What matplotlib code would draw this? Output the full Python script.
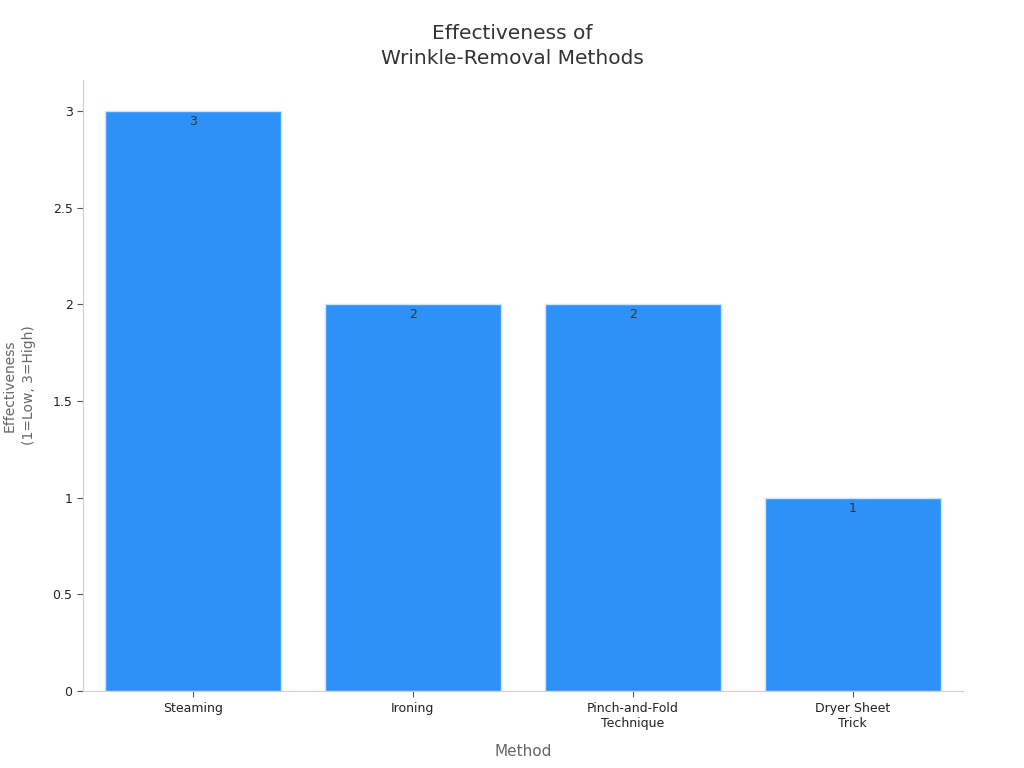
import matplotlib
matplotlib.use("Agg")
import matplotlib.pyplot as plt

methods = ["Steaming", "Ironing", "Pinch-and-Fold\nTechnique", "Dryer Sheet\nTrick"]
effectiveness = [3, 2, 2, 1]
yticks = [0, 0.5, 1, 1.5, 2, 2.5, 3]
ytick_labels = ["0", "0.5", "1", "1.5", "2", "2.5", "3"]

plt.rcParams["font.family"] = ["DejaVu Sans"]
fig = plt.figure(figsize=(10.24, 7.68), dpi=100)
ax = fig.add_axes([0.081, 0.100, 0.859, 0.796])

x = range(len(methods))
bars = ax.bar(x, effectiveness, width=0.8, color="#2E91F8", edgecolor="#CFE4FB", linewidth=1)
for xi, v in zip(x, effectiveness):
    ax.text(xi, v - 0.02, f"{v}", ha="center", va="top", fontsize=9, color="#333333")

ax.set_xlim(-0.5, 3.5)
ax.set_ylim(0, 3.16)
ax.set_xticks(list(x))
ax.set_xticklabels(methods, fontsize=9, color="#222222")
ax.set_yticks(yticks)
ax.set_yticklabels(ytick_labels, fontsize=9, color="#222222")
ax.tick_params(axis="both", color="#555555", length=4)

for s in ["top", "right"]:
    ax.spines[s].set_visible(False)
for s in ["left", "bottom"]:
    ax.spines[s].set_color("#D0D0D0")

ax.set_xlabel("Method", fontsize=11, color="#666666", labelpad=10)
ax.set_ylabel("Effectiveness\n(1=Low, 3=High)", fontsize=10, color="#666666", labelpad=12,
              linespacing=1.5)
fig.suptitle("Effectiveness of\nWrinkle-Removal Methods", fontsize=14.5, color="#333333",
             y=0.969, va="top", linespacing=1.4)

fig.savefig("out.png", dpi=100)
